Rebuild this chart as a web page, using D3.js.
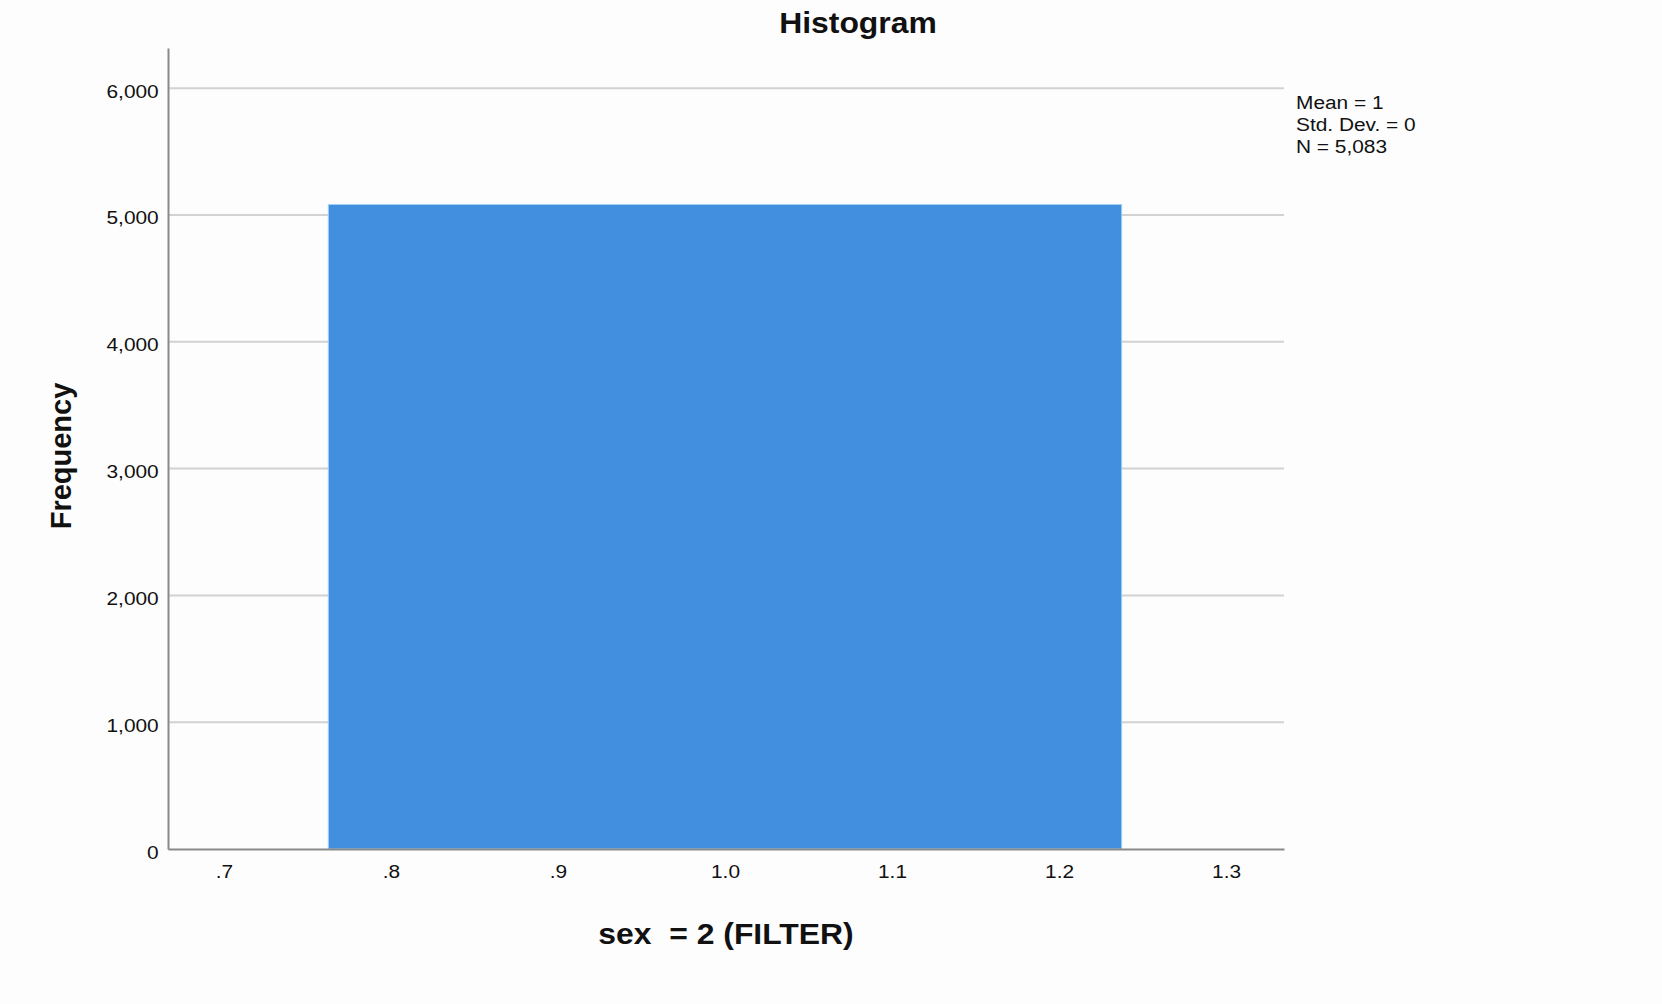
<!DOCTYPE html>
<html>
<head>
<meta charset="utf-8">
<script src="https://cdn.jsdelivr.net/npm/d3@7"></script>
<style>
  html, body { margin: 0; padding: 0; background: #fdfdfd; }
  text { font-family: Arial, 'Liberation Sans', sans-serif; fill: #111; }
</style>
</head>
<body>
<svg id="chart" width="1662" height="1004"></svg>
<script>
// Histogram data (one bin)
const binStart = [0.7625];
const binEnd = [1.2375];
const binCount = [5083];

const xTicks = [0.7, 0.8, 0.9, 1.0, 1.1, 1.2, 1.3];
const yTicks = [0, 1000, 2000, 3000, 4000, 5000, 6000];
const statLines = ['Mean = 1', 'Std. Dev. = 0', 'N = 5,083'];

const titleText = 'Histogram';
const xLabel = 'sex  = 2 (FILTER)';
const yLabel = 'Frequency';

// the source picture is a little wider than tall, so stretch text sideways
const smallStretch = 1.16;
const bigStretch = 1.1;

const svg = d3.select('#chart');

svg.append('rect')
  .attr('width', 1662)
  .attr('height', 1004)
  .attr('fill', '#fdfdfd');

// plot area
const plotLeft = 168, plotRight = 1284, plotTop = 48, plotBottom = 849;

const x = d3.scaleLinear()
  .domain([0.6665, 1.3347])
  .range([plotLeft, plotRight]);

const y = d3.scaleLinear()
  .domain([0, 6317])
  .range([plotBottom, plotTop]);

// gridlines
svg.append('g')
  .selectAll('line')
  .data(yTicks.filter(d => d > 0))
  .enter()
  .append('line')
  .attr('x1', plotLeft)
  .attr('x2', plotRight)
  .attr('y1', d => y(d))
  .attr('y2', d => y(d))
  .attr('stroke', '#d2d2d2')
  .attr('stroke-width', 2);

// bars
const bins = binStart.map((s, i) => ({ x0: s, x1: binEnd[i], n: binCount[i] }));

svg.append('g')
  .selectAll('rect')
  .data(bins)
  .enter()
  .append('rect')
  .attr('x', d => x(d.x0))
  .attr('y', d => y(d.n))
  .attr('width', d => x(d.x1) - x(d.x0))
  .attr('height', d => y(0) - y(d.n))
  .attr('fill', '#438fdf')
  .attr('stroke', '#9fd2f0')
  .attr('stroke-width', 1);

// y axis
const yAxis = d3.axisLeft(y)
  .tickValues(yTicks)
  .tickSize(0)
  .tickPadding(8)
  .tickFormat(d3.format(','));

const gy = svg.append('g')
  .attr('transform', `translate(${plotLeft},0)`)
  .call(yAxis);
gy.select('.domain').attr('stroke', '#8a8a8a').attr('stroke-width', 2);
gy.selectAll('text')
  .attr('dy', '0.5em')
  .attr('transform', `scale(${smallStretch},1)`)
  .style('font-size', '18px')
  .attr('fill', '#222');

// x axis
const fmtX = d => d < 1 ? d.toFixed(1).replace(/^0/, '') : d.toFixed(1);
const xAxis = d3.axisBottom(x)
  .tickValues(xTicks)
  .tickSize(0)
  .tickPadding(16)
  .tickFormat(fmtX);

const gx = svg.append('g')
  .attr('transform', `translate(0,${plotBottom})`)
  .call(xAxis);
gx.select('.domain').attr('stroke', '#8a8a8a').attr('stroke-width', 2);
gx.selectAll('text')
  .attr('transform', `scale(${smallStretch},1)`)
  .style('font-size', '18px')
  .attr('fill', '#222');

// title
svg.append('text')
  .attr('transform', `translate(858,33) scale(${bigStretch},1)`)
  .attr('text-anchor', 'middle')
  .style('font-size', '29px')
  .style('font-weight', 'bold')
  .text(titleText);

// axis titles
svg.append('text')
  .attr('transform', `translate(726,944) scale(${bigStretch},1)`)
  .attr('text-anchor', 'middle')
  .style('font-size', '29px')
  .style('font-weight', 'bold')
  .style('white-space', 'pre')
  .text(xLabel);

svg.append('text')
  .attr('transform', 'translate(71,456) rotate(-90)')
  .attr('text-anchor', 'middle')
  .style('font-size', '29px')
  .style('font-weight', 'bold')
  .text(yLabel);

// stats box
svg.append('g')
  .selectAll('text')
  .data(statLines)
  .enter()
  .append('text')
  .attr('transform', (d, i) => `translate(1296,${109 + i * 22}) scale(${smallStretch},1)`)
  .style('font-size', '18px')
  .attr('fill', '#222')
  .text(d => d);
</script>
</body>
</html>
